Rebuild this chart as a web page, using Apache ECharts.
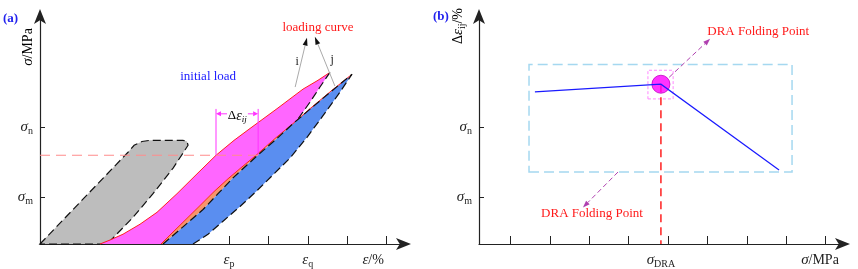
<!DOCTYPE html>
<html><head><meta charset="utf-8">
<script src="https://cdn.jsdelivr.net/npm/echarts@6/dist/echarts.min.js"></script>
<style>html,body{margin:0;padding:0;background:#fff}#c{width:858px;height:269px}</style>
</head><body><div id="c"></div>
<script>
// ---------------- data ----------------
const xTicks = [0.8, 1.8, 2.8, 3.8, 4.8, 5.8, 6.8, 7.8, 8.8];
const yTicks = [2, 5];                 // sigma_m, sigma_n
const yTickSubs = ['m', 'n'];
const leftXLabelVals = [4.8, 6.8, 8.46];   // eps_p, eps_q, eps/%
const rightXLabelVals = [4.62, 8.66];      // sigma_DRA, sigma/MPa

// panel (a): loop outlines (strain, stress)
const greyLoop = [[0,0],[2.235,3.94],[2.39,4.24],[2.59,4.40],[2.79,4.45],[3.63,4.45],[3.73,4.41],[3.76,4.24],[3.63,3.90],[3.38,3.26],[2.87,2.16],[2.36,1.14],[1.78,0.13],[1.65,0]];
const magentaTop = [[1.524,0],[1.778,0.17],[2.108,0.42],[2.540,0.85],[2.971,1.36],[3.479,2.16],[3.987,3.01],[4.470,3.81],[4.927,4.45],[5.333,4.96],[6.019,5.81],[6.679,6.65],[7.060,7.03],[7.365,7.37]];
const iUnload = [[7.365,7.37],[7.11,6.74],[6.86,6.10],[6.54,5.34]];
const jReload = [[3.073,0],[3.352,0.47],[3.708,1.06],[4.063,1.65],[4.419,2.25],[4.775,2.80],[5.130,3.31],[5.486,3.81],[5.968,4.53],[6.425,5.17],[6.857,5.81],[7.365,6.53],[7.924,7.29]];
const jLoad = [[3.124,0],[3.683,0.81],[4.140,1.48],[4.521,2.16],[4.902,2.84],[5.257,3.39],[5.587,3.90],[6.019,4.53],[6.425,5.17],[6.870,5.81],[7.380,6.53],[7.924,7.29]];
const jUnload = [[3.886,0],[4.267,0.42],[4.648,0.98],[5.079,1.61],[5.511,2.29],[5.917,2.97],[6.349,3.69],[6.781,4.58],[7.187,5.51],[7.568,6.40],[7.924,7.29]];
const stressLevel = 3.81;
const deltaEps = [4.47, 5.54];     // bracket strains
const arrowI = [[6.48,6.74],[6.78,8.86]];
const arrowJ = [[7.49,6.78],[6.98,8.90]];

// panel (b)
const draCurve = [[1.42,6.53],[4.62,6.86],[7.62,3.18]];
const foldPoint = [4.62, 6.86];
const rangeBox = [[1.27,3.09],[7.95,7.71]];
const pointBox = [[4.29,6.23],[4.93,7.46]];
const arrowUp = [[4.83,7.16],[5.87,8.81]];
const arrowDown = [[3.53,3.09],[2.64,1.57]];

// ---------------- helpers ----------------
const SERIF = '"Liberation Serif","Times New Roman",serif';
const subRich = {
  g: {fontFamily: SERIF, fontStyle: 'italic', fontSize: 15, color: '#222', lineHeight: 18},
  s: {fontFamily: SERIF, fontSize: 10, color: '#222', verticalAlign: 'bottom', lineHeight: 18, padding: [6,0,0,0]},
  t: {fontFamily: SERIF, fontSize: 14, color: '#222', lineHeight: 18}
};
function near(a, b) { return Math.abs(a - b) < 0.02; }

function poly(grid, pts, style, z, closed) {
  return {
    type: 'custom', xAxisIndex: grid, yAxisIndex: grid, z: z, silent: true, clip: false,
    data: [pts[0]],
    renderItem: function (params, api) {
      return {type: closed ? 'polygon' : 'polyline', shape: {points: pts.map(p => api.coord(p))}, style: style};
    }
  };
}
function arrowEl(a, b, color, head, dash, headColor) {
  const dx = b[0] - a[0], dy = b[1] - a[1], L = Math.hypot(dx, dy), ux = dx / L, uy = dy / L;
  const hl = head[0], hw = head[1];
  const base = [b[0] - ux * hl, b[1] - uy * hl];
  return {type: 'group', children: [
    {type: 'line', shape: {x1: a[0], y1: a[1], x2: base[0], y2: base[1]}, style: {stroke: color, lineWidth: 1, lineDash: dash}},
    {type: 'polygon', shape: {points: [b, [base[0] - uy * hw, base[1] + ux * hw], [base[0] + uy * hw, base[1] - ux * hw]]}, style: {fill: headColor || color}}
  ]};
}
function arrowSeries(grid, seg, color, head, dash, headColor) {
  return {type: 'custom', xAxisIndex: grid, yAxisIndex: grid, z: 20, silent: true, clip: false, data: [seg[0]],
    renderItem: function (p, api) { return arrowEl(api.coord(seg[0]), api.coord(seg[1]), color, head, dash, headColor); }};
}
function textSeries(grid, items) {
  return {type: 'custom', xAxisIndex: grid, yAxisIndex: grid, z: 30, silent: true, clip: false,
    data: items.map(it => it.at),
    renderItem: function (p, api) {
      const it = items[p.dataIndex], c = api.coord(it.at);
      return {type: 'text', x: c[0], y: c[1], style: Object.assign({align: 'center', verticalAlign: 'middle'}, it.style)};
    }};
}

function xAxisDef(grid, labelVals, fmt) {
  return {type: 'value', gridIndex: grid, min: 0, max: 9.244,
    axisLine: {show: true, onZero: false, lineStyle: {color: '#222', width: 1.2}, symbol: ['none', 'arrow'], symbolSize: [9, 15], symbolOffset: [0, 7]},
    axisTick: {show: true, inside: true, length: 8, customValues: xTicks, lineStyle: {color: '#222', width: 1}},
    axisLabel: {show: true, customValues: labelVals, formatter: fmt, margin: 7, rich: subRich},
    splitLine: {show: false}};
}
function yAxisDef(grid) {
  return {type: 'value', gridIndex: grid, min: 0, max: 9.79,
    axisLine: {show: true, onZero: false, lineStyle: {color: '#222', width: 1.2}, symbol: ['none', 'arrow'], symbolSize: [9, 15], symbolOffset: [0, 7]},
    axisTick: {show: true, inside: true, length: 5, customValues: yTicks, lineStyle: {color: '#222', width: 1}},
    axisLabel: {show: true, customValues: yTicks, margin: 7, rich: subRich,
      formatter: v => '{g|σ}{s|' + yTickSubs[yTicks.findIndex(t => near(t, v))] + '}'},
    splitLine: {show: false}};
}

// polygons built from outlines
const magentaPoly = magentaTop.concat(iUnload.slice(1), jReload.slice(0, 10).reverse());
const orangePoly = jReload.concat(jLoad.slice().reverse());
const bluePoly = jLoad.concat(jUnload.slice().reverse());
const boxPts = b => [[b[0][0], b[0][1]], [b[1][0], b[0][1]], [b[1][0], b[1][1]], [b[0][0], b[1][1]]];

const dashBlack = {stroke: '#111', lineWidth: 1.2, lineDash: [8, 4], fill: null};

const option = {
  animation: false,
  backgroundColor: '#fff',
  grid: [
    {left: 40, top: 16, width: 364, height: 231},
    {left: 479, top: 16, width: 364, height: 231}
  ],
  xAxis: [
    xAxisDef(0, leftXLabelVals, v => near(v, 4.8) ? '{g|ε}{s|p}' : near(v, 6.8) ? '{g|ε}{s|q}' : '{g|ε}{t|/%}'),
    xAxisDef(1, rightXLabelVals, v => near(v, 4.62) ? '{g|σ}{s|DRA}' : '{g|σ}{t|/MPa}')
  ],
  yAxis: [yAxisDef(0), yAxisDef(1)],
  graphic: [
    {type: 'text', left: 3, top: 12, style: {text: '(a)', font: 'bold 13px ' + SERIF, fill: '#2222ee'}},
    {type: 'text', left: 433, top: 10, style: {text: '(b)', font: 'bold 13px ' + SERIF, fill: '#2222ee'}},
    {type: 'text', x: 28, y: 47, rotation: Math.PI / 2, style: {text: '{g|σ}{t|/MPa}', rich: subRich, align: 'center', verticalAlign: 'middle'}},
    {type: 'text', x: 458, y: 26, rotation: Math.PI / 2, style: {text: '{t|Δ}{g|ε}{s|ij}{t|/%}', rich: subRich, align: 'center', verticalAlign: 'middle'}}
  ],
  series: [
    // panel (a) fills
    poly(0, greyLoop, Object.assign({}, dashBlack, {fill: '#bdbdbd'}), 1, true),
    poly(0, magentaPoly, {fill: '#ff66ff', stroke: null}, 2, true),
    poly(0, orangePoly, {fill: '#f7956b', stroke: null}, 3, true),
    poly(0, bluePoly, {fill: '#5a8ef0', stroke: null}, 4, true),
    // panel (a) curves
    poly(0, magentaTop, {stroke: '#ff2020', lineWidth: 1, fill: null}, 10, false),
    poly(0, iUnload, dashBlack, 10, false),
    poly(0, jReload, {stroke: '#ff2020', lineWidth: 1, fill: null}, 11, false),
    poly(0, jLoad, dashBlack, 12, false),
    poly(0, jUnload, dashBlack, 12, false),
    poly(0, [[0, stressLevel], [deltaEps[1], stressLevel]], {stroke: '#ff8c8c', lineWidth: 1.2, lineDash: [10, 6], fill: null}, 13, false),
    poly(0, [[deltaEps[0], stressLevel], [deltaEps[0], 5.8]], {stroke: '#ff33ff', lineWidth: 1, fill: null}, 14, false),
    poly(0, [[deltaEps[1], stressLevel], [deltaEps[1], 5.8]], {stroke: '#ff33ff', lineWidth: 1, fill: null}, 14, false),
    arrowSeries(0, [[4.75, 5.59], [deltaEps[0], 5.59]], '#ff33ff', [5, 2.5], null),
    arrowSeries(0, [[5.28, 5.59], [deltaEps[1], 5.59]], '#ff33ff', [5, 2.5], null),
    arrowSeries(0, arrowI, '#aaaaaa', [8, 2.5], null, '#111'),
    arrowSeries(0, arrowJ, '#aaaaaa', [8, 2.5], null, '#111'),
    textSeries(0, [
      {at: [7.06, 9.28], style: {text: 'loading curve', font: '13px ' + SERIF, fill: '#ff1a1a'}},
      {at: [4.27, 7.20], style: {text: 'initial load', font: '13px ' + SERIF, fill: '#1a1aff'}},
      {at: [6.53, 7.84], style: {text: 'i', font: '12px ' + SERIF, fill: '#222'}},
      {at: [7.42, 7.92], style: {text: 'j', font: '12px ' + SERIF, fill: '#222'}},
      {at: [5.01, 5.50], style: {text: '{d|Δ}{e|ε}{s|ij}', rich: {
        d: {fontFamily: SERIF, fontSize: 13, color: '#1a1aff', lineHeight: 16},
        e: {fontFamily: SERIF, fontStyle: 'italic', fontSize: 14, color: '#1a1aff', lineHeight: 16},
        s: {fontFamily: SERIF, fontStyle: 'italic', fontSize: 9, color: '#1a1aff', verticalAlign: 'bottom', lineHeight: 16, padding: [6, 0, 0, 0]}},
        backgroundColor: '#fff'}}
    ]),
    // panel (b)
    poly(1, boxPts(rangeBox), {stroke: '#a5d8f0', lineWidth: 1.5, lineDash: [10, 5], fill: null}, 5, true),
    poly(1, boxPts(pointBox), {stroke: '#ff88ff', lineWidth: 1, lineDash: [3, 2], fill: null}, 6, true),
    poly(1, [foldPoint, [foldPoint[0], 0]], {stroke: '#ff2020', lineWidth: 1.5, lineDash: [8, 5], fill: null}, 7, false),
    {type: 'scatter', xAxisIndex: 1, yAxisIndex: 1, z: 8, silent: true, symbolSize: 18, data: [foldPoint],
      itemStyle: {color: '#ff00ff', borderColor: '#c000c0', borderWidth: 1}},
    poly(1, draCurve, {stroke: '#1a1aff', lineWidth: 1.2, fill: null}, 9, false),
    arrowSeries(1, arrowUp, '#b040b0', [7, 2.5], [5, 3]),
    arrowSeries(1, arrowDown, '#b040b0', [7, 2.5], [5, 3]),
    textSeries(1, [
      {at: [7.09, 9.11], style: {text: 'DRA Folding Point', font: '13px ' + SERIF, fill: '#ff1a1a'}},
      {at: [2.87, 1.31], style: {text: 'DRA Folding Point', font: '13px ' + SERIF, fill: '#ff1a1a'}}
    ])
  ]
};
const chart = echarts.init(document.getElementById('c'), null, {renderer: 'canvas'});
chart.setOption(option);
</script></body></html>
